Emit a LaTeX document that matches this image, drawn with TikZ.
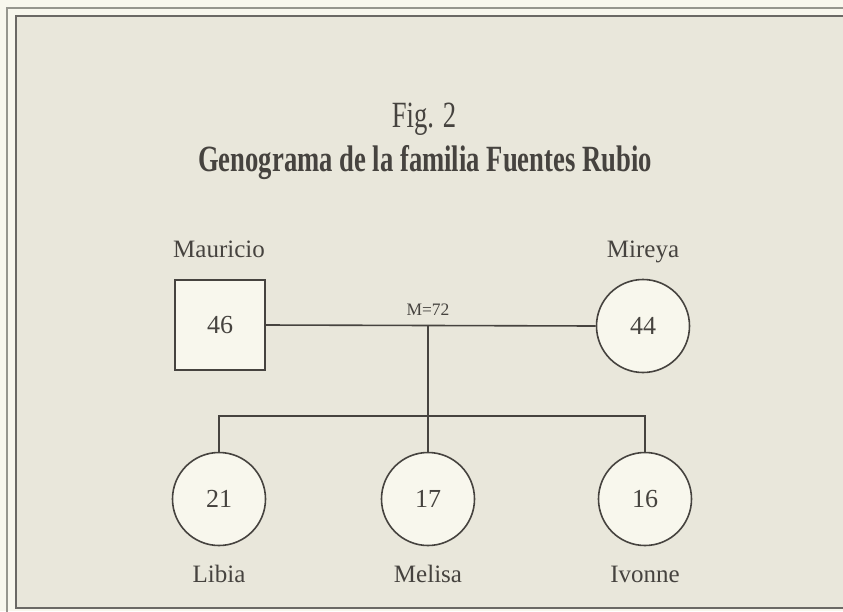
\documentclass[tikz,border=0pt]{standalone}
\usepackage{fontspec}
\setmainfont{Liberation Serif}
\newfontfamily\condfont[FakeStretch=0.72]{Liberation Serif}
\definecolor{paper}{RGB}{248,247,237}
\definecolor{panel}{RGB}{233,231,219}
\definecolor{ink}{RGB}{70,67,63}
\definecolor{rule}{RGB}{150,150,142}

\begin{document}
\begin{tikzpicture}[x=1pt,y=-1pt,
    member/.style={draw=ink,line width=1.6pt,fill=paper,text=ink,inner sep=0pt,font=\fontsize{26}{28}\selectfont},
    male/.style={member,rectangle,minimum size=90pt},
    female/.style={member,circle,minimum size=93pt},
    caption/.style={text=ink,anchor=base,font=\fontsize{25}{28}\selectfont},
    link/.style={draw=ink,line width=1.6pt}]

\clip (0,0) rectangle (843,611);
\fill[paper] (0,0) rectangle (843,611);

% frame
\draw[rule,line width=1.2pt] (850,8) -- (7,8) -- (7,620);
\filldraw[fill=panel,draw=ink!80,line width=1.4pt] (850,16) -- (16,16) -- (16,608) -- (850,608);

% title
\node[caption,font=\condfont\fontsize{37}{40}\selectfont] (fig) at (424,127) {Fig. 2};
\node[caption,font=\condfont\bfseries\fontsize{37}{40}\selectfont] (title) at (425,171) {Genograma de la familia Fuentes Rubio};

% parents
\node[male] (mauricio) at (220,325) {46};
\node[female] (mireya) at (643,326) {44};
\node[caption] (mauricioname) at (219,257) {Mauricio};
\node[caption] (mireyaname) at (643,257) {Mireya};

% children
\node[female] (libia) at (219,499) {21};
\node[female] (melisa) at (428,499) {17};
\node[female] (ivonne) at (645,499) {16};
\node[caption] (libianame) at (219,582) {Libia};
\node[caption] (melisaname) at (428,582) {Melisa};
\node[caption] (ivonnename) at (645,582) {Ivonne};

\coordinate (marriage) at (mauricio.east -| melisa.north);
\coordinate (siblings) at (428,416);

\draw[link] (mauricio.east) -- (mireya.west);
\node[caption,font=\fontsize{17.5}{19}\selectfont] (years) at (428,315) {M=72};
\draw[link] (marriage) -- (melisa.north);
\draw[link] (libia.north) |- (siblings) -| (ivonne.north);
\end{tikzpicture}
\end{document}
